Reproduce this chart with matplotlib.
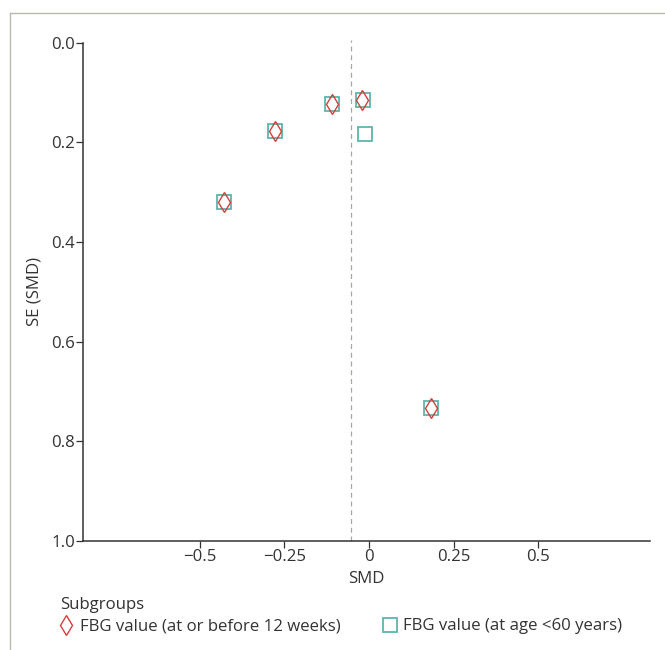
import matplotlib
matplotlib.use("Agg")
import matplotlib.pyplot as plt
from matplotlib.lines import Line2D

plt.rcParams["font.family"] = ["Open Sans", "DejaVu Sans"]

# funnel plot data
smd_weeks = [-0.428, -0.277, -0.110, -0.021, 0.184]
se_weeks = [0.320, 0.177, 0.123, 0.114, 0.733]
smd_age = [-0.428, -0.277, -0.110, -0.018, -0.012, 0.184]
se_age = [0.320, 0.177, 0.123, 0.114, 0.183, 0.733]
pooled_smd = -0.054

x_ticks = [-0.5, -0.25, 0, 0.25, 0.5]
x_labels = ["\u22120.5", "\u22120.25", "0", "0.25", "0.5"]
y_ticks = [0.0, 0.2, 0.4, 0.6, 0.8, 1.0]

label_weeks = "FBG value (at or before 12 weeks)"
label_age = "FBG value (at age <60 years)"

red = "#d2403c"
teal = "#5db5ad"
ink = "#333333"
fs = 12.1

fig = plt.figure(figsize=(6.65, 6.5), dpi=100)
ax = fig.add_axes([0.125, 0.168, 0.852, 0.766])

ax.plot(smd_age, se_age, linestyle="none", marker="s", markersize=9.5,
        markerfacecolor="none", markeredgecolor=teal, markeredgewidth=1.3)
ax.plot(smd_weeks, se_weeks, linestyle="none", marker="d", markersize=10.5,
        markerfacecolor="none", markeredgecolor=red, markeredgewidth=1.0)
ax.axvline(pooled_smd, ymin=0, ymax=1.005, clip_on=False,
           color="#a8a8a0", linestyle=(0, (4, 3)), linewidth=0.9)

ax.set_xlim(-0.845, 0.83)
ax.set_ylim(1.0, 0.0)
ax.set_xticks(x_ticks)
ax.set_xticklabels(x_labels)
ax.set_yticks(y_ticks)
ax.set_yticklabels([f"{v:.1f}" for v in y_ticks])

for side in ["top", "right"]:
    ax.spines[side].set_visible(False)
for side in ["left", "bottom"]:
    ax.spines[side].set_color(ink)
    ax.spines[side].set_linewidth(1.1)
ax.tick_params(colors=ink, labelsize=fs, length=5, width=0.9, pad=1)
ax.set_xlabel("SMD", fontsize=fs, color=ink, labelpad=4)
ax.set_ylabel("SE (SMD)", fontsize=fs, color=ink, labelpad=6)

# page frame: top and left rule only
fig.add_artist(Line2D([10 / 665, 10 / 665], [0, 1 - 13 / 650], color="#b8b8ac", linewidth=1.0))
fig.add_artist(Line2D([10 / 665, 1], [1 - 13 / 650, 1 - 13 / 650], color="#b8b8ac", linewidth=1.0))

handles = [
    Line2D([], [], linestyle="none", marker="d", markersize=10.5,
           markerfacecolor="none", markeredgecolor=red, markeredgewidth=1.0, label=label_weeks),
    Line2D([], [], linestyle="none", marker="s", markersize=9.5,
           markerfacecolor="none", markeredgecolor=teal, markeredgewidth=1.3, label=label_age),
]
leg = fig.legend(handles=handles, title="Subgroups", ncol=2, frameon=False,
                 loc="upper left", bbox_to_anchor=(0.0905, 0.081), alignment="left",
                 fontsize=fs, title_fontsize=fs, handlelength=0.7,
                 handletextpad=0.45, columnspacing=2.6, borderpad=0, borderaxespad=0,
                 labelspacing=0.3)
for t in leg.get_texts():
    t.set_color(ink)
leg.get_title().set_color(ink)

fig.savefig("out.png", dpi=100, facecolor="white")
